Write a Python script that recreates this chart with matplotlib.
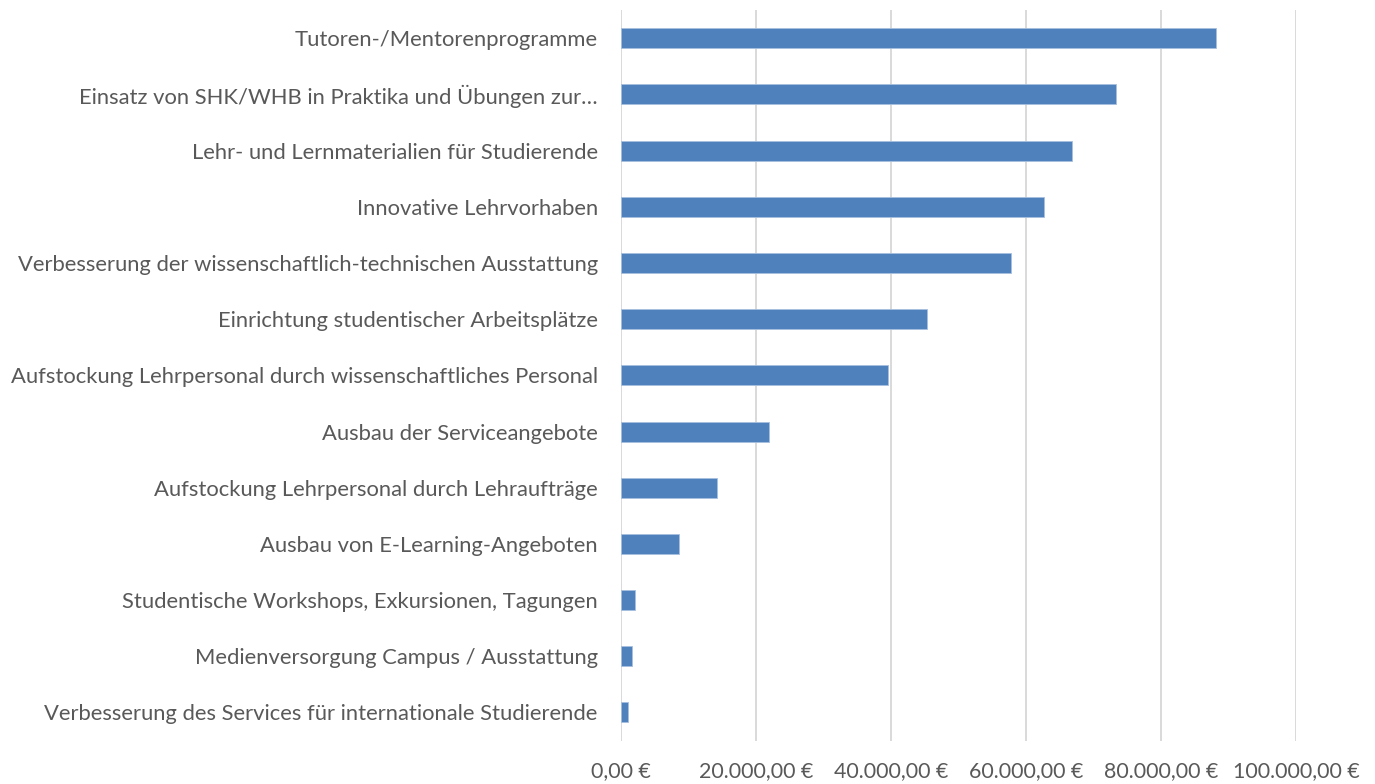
import matplotlib
matplotlib.use("Agg")
import matplotlib.pyplot as plt
from matplotlib.ticker import FuncFormatter

# Kategorien (von oben nach unten) und Beträge in Euro
kategorien = [
    "Tutoren-/Mentorenprogramme",
    "Einsatz von SHK/WHB in Praktika und Übungen zur…",
    "Lehr- und Lernmaterialien für Studierende",
    "Innovative Lehrvorhaben",
    "Verbesserung der wissenschaftlich-technischen Ausstattung",
    "Einrichtung studentischer Arbeitsplätze",
    "Aufstockung Lehrpersonal durch wissenschaftliches Personal",
    "Ausbau der Serviceangebote",
    "Aufstockung Lehrpersonal durch Lehraufträge",
    "Ausbau von E-Learning-Angeboten",
    "Studentische Workshops, Exkursionen, Tagungen",
    "Medienversorgung Campus / Ausstattung",
    "Verbesserung des Services für internationale Studierende",
]
betraege = [88200, 73400, 66800, 62700, 57800, 45300, 39600,
            21900, 14300, 8600, 2050, 1600, 1130]
x_ticks = [0, 20000, 40000, 60000, 80000, 100000]

plt.rcParams["font.family"] = ["Lato", "DejaVu Sans"]

fig = plt.figure(figsize=(13.75, 7.84), dpi=100)
ax = fig.add_axes([620.7 / 1375, 1 - 740.5 / 784, (1296 - 620.7) / 1375, 730.3 / 784])

pos = list(range(len(kategorien)))
ax.barh(pos, betraege, height=0.356, color="#4f81bd",
        edgecolor="#a7bfe0", linewidth=0.6, zorder=3)

ax.set_ylim(len(kategorien) - 0.5, -0.5)
ax.set_xlim(0, 100000)
ax.set_yticks(pos)
ax.set_yticklabels(kategorien)
ax.set_xticks(x_ticks)


def euro(v, _):
    s = f"{v:,.2f}".replace(",", "X").replace(".", ",").replace("X", ".")
    return s + " €"


ax.xaxis.set_major_formatter(FuncFormatter(euro))
ax.tick_params(axis="both", length=0, colors="#595959")
ax.tick_params(axis="y", pad=16.5, labelsize=15.8)
ax.tick_params(axis="x", pad=15, labelsize=15.4)
ax.grid(axis="x", color="#d9d9d9", linewidth=1.4, zorder=0)
for s in ax.spines.values():
    s.set_visible(False)

fig.savefig("out.png", dpi=100)
